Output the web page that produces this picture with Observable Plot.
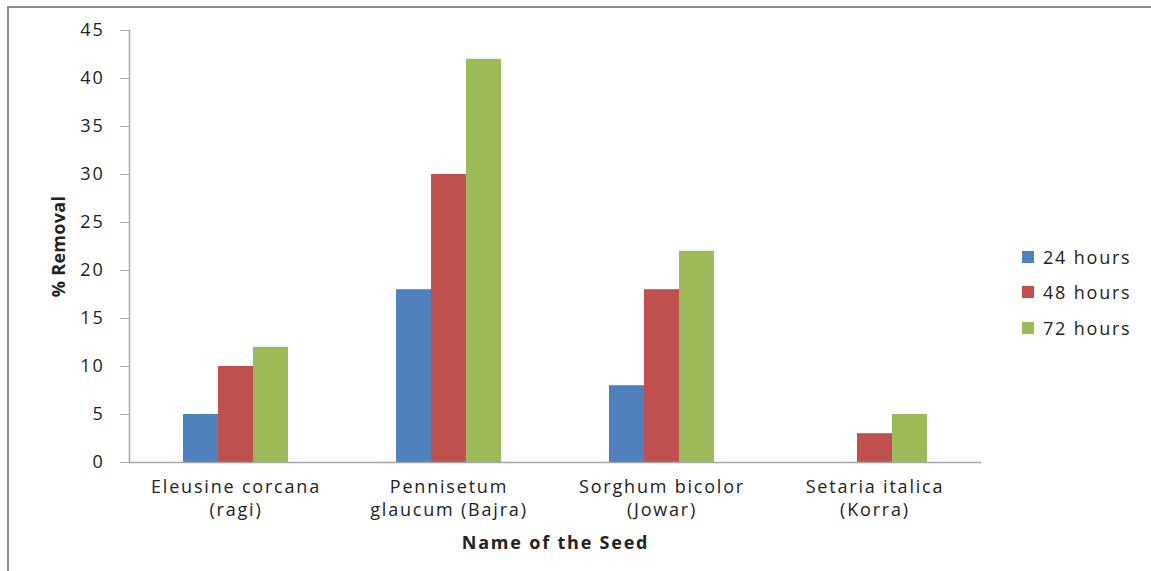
<!DOCTYPE html>
<html>
<head>
<meta charset="utf-8">
<script src="https://cdn.jsdelivr.net/npm/d3@7"></script>
<script src="https://cdn.jsdelivr.net/npm/@observablehq/plot@0.6"></script>
<style>
  body { margin: 0; background: #fff; }
  #wrap { position: relative; width: 1151px; height: 571px; overflow: hidden; font-family: "Open Sans", sans-serif; }
  #border { position: absolute; left: 7px; top: 6px; width: 1200px; height: 600px; border-top: 2px solid #8c8c8c; border-left: 2px solid #8c8c8c; }
  #chart { position: absolute; left: 0; top: 0; }
  #legend { position: absolute; left: 1022px; top: 239px; font-size: 18px; color: #222; letter-spacing: 1.8px; }
  #legend .row { display: flex; align-items: center; height: 35.5px; }
  #legend .sw { width: 12px; height: 12px; margin-right: 9px; }
  g[aria-label="y-axis label"] text { font-weight: bold; letter-spacing: 0.3px; }
  g[aria-label="fx-axis label"] text { font-weight: bold; }
</style>
</head>
<body>
<div id="wrap">
  <div id="border"></div>
  <div id="chart"></div>
  <div id="legend"></div>
</div>
<script>
const categories = [
  "Eleusine corcana\n(ragi)",
  "Pennisetum\nglaucum (Bajra)",
  "Sorghum bicolor\n(Jowar)",
  "Setaria italica\n(Korra)"
];
const seriesNames = ["24 hours", "48 hours", "72 hours"];
const values24 = [5, 18, 8, 0];
const values48 = [10, 30, 18, 3];
const values72 = [12, 42, 22, 5];
const yTicks = [0, 5, 10, 15, 20, 25, 30, 35, 40, 45];
const colors = ["#4f81bd", "#c0504d", "#9bbb59"];

const seriesValues = [values24, values48, values72];
const data = [];
categories.forEach((c, i) => {
  seriesNames.forEach((s, j) => {
    data.push({cat: c, series: s, value: seriesValues[j][i]});
  });
});

const chart = Plot.plot({
  width: 1151,
  height: 571,
  marginLeft: 128,
  marginRight: 170,
  marginTop: 30,
  marginBottom: 109,
  style: {fontFamily: "'Open Sans', sans-serif", fontSize: "18px", color: "#222", background: "transparent", letterSpacing: "1.8px"},
  fx: {domain: categories, padding: 0},
  x: {domain: seriesNames, paddingInner: 0, paddingOuter: 1.5, axis: null},
  y: {domain: [0, 45]},
  color: {domain: seriesNames, range: colors},
  marks: [
    Plot.barY(data, {fx: "cat", x: "series", y: "value", fill: "series"}),
    Plot.ruleY([0], {stroke: "#a6a6a6", strokeWidth: 1.5}),
    Plot.frame({anchor: "left", facetAnchor: "left", stroke: "#a6a6a6", strokeWidth: 1.5}),
    Plot.axisY({
      ticks: yTicks, tickSize: 9, tickPadding: 16, stroke: "#a6a6a6", fill: "#222",
      label: "% Removal", labelAnchor: "center", labelOffset: 77, labelArrow: "none"
    }),
    Plot.axisFx({
      anchor: "bottom", tickSize: 0, tickPadding: 13, lineHeight: 1.33, fill: "#222",
      label: "Name of the Seed", labelAnchor: "center", labelOffset: 86, labelArrow: "none"
    })
  ]
});
document.getElementById("chart").appendChild(chart);

const legend = document.getElementById("legend");
seriesNames.forEach((s, j) => {
  const row = document.createElement("div");
  row.className = "row";
  const sw = document.createElement("div");
  sw.className = "sw";
  sw.style.background = colors[j];
  const t = document.createElement("span");
  t.textContent = s;
  row.appendChild(sw);
  row.appendChild(t);
  legend.appendChild(row);
});
</script>
</body>
</html>
